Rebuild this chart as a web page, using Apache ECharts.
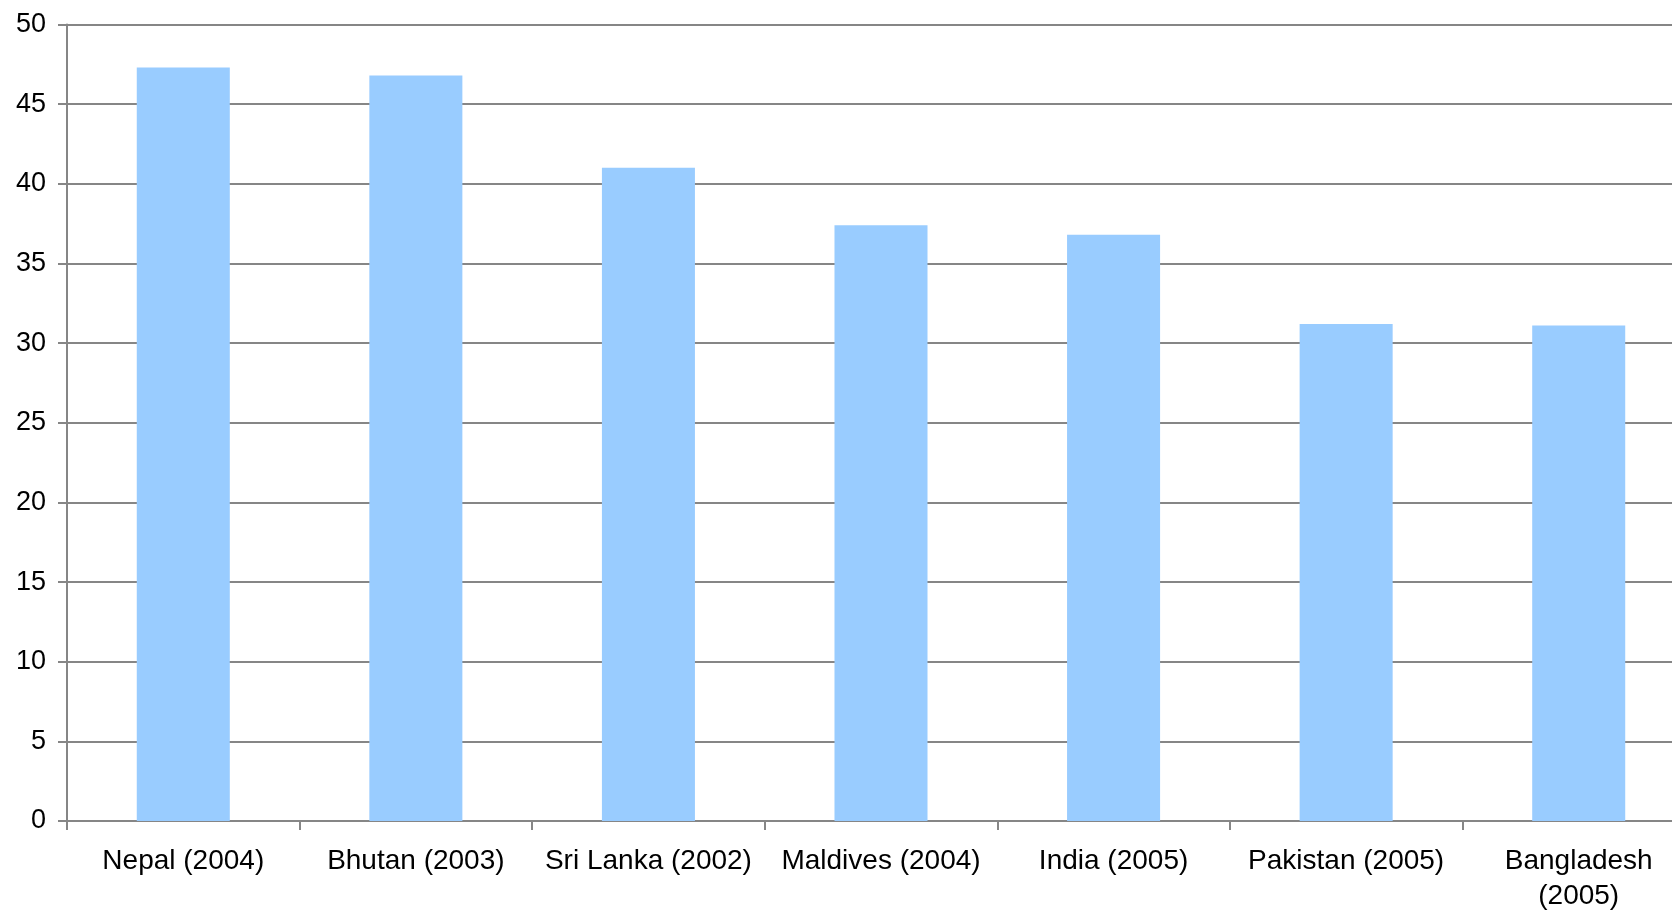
<!DOCTYPE html>
<html>
<head>
<meta charset="utf-8">
<script src="https://cdn.jsdelivr.net/npm/echarts@6/dist/echarts.min.js"></script>
<style>
  html, body { margin: 0; padding: 0; background: #ffffff; overflow: hidden; }
  /* plot area runs past the right edge of the window */
  #chart { width: 1695px; height: 914px; }
</style>
</head>
<body>
<div id="chart"></div>
<script>
// Countries with survey year
const categories = [
  'Nepal (2004)', 'Bhutan (2003)', 'Sri Lanka (2002)', 'Maldives (2004)',
  'India (2005)', 'Pakistan (2005)', 'Bangladesh\n(2005)'
];
// Value per country
const values = [47.3, 46.8, 41.0, 37.4, 36.8, 31.2, 31.1];
// Value axis range
const yMin = 0;
const yMax = 50;
const yStep = 5;

const chart = echarts.init(document.getElementById('chart'), null, { renderer: 'canvas' });
const axisGray = '#868686';
const labelFont = { color: '#000000', fontFamily: 'Liberation Sans, Arial, sans-serif' };

chart.setOption({
  animation: false,
  backgroundColor: '#ffffff',
  grid: { left: 67, right: 0, top: 24.5, bottom: 92, containLabel: false },
  xAxis: {
    type: 'category',
    data: categories,
    boundaryGap: true,
    axisLine: { show: true, lineStyle: { color: axisGray, width: 2 } },
    axisTick: { show: true, length: 9, alignWithLabel: false, lineStyle: { color: axisGray, width: 2 } },
    axisLabel: Object.assign({ interval: 0, margin: 23, fontSize: 28, lineHeight: 35 }, labelFont),
    splitLine: { show: false }
  },
  yAxis: {
    type: 'value',
    min: yMin,
    max: yMax,
    interval: yStep,
    axisLine: { show: true, lineStyle: { color: axisGray, width: 2 } },
    axisTick: { show: true, length: 9, lineStyle: { color: axisGray, width: 2 } },
    axisLabel: Object.assign({ margin: 21, fontSize: 27 }, labelFont),
    splitLine: { show: true, lineStyle: { color: axisGray, width: 2 } }
  },
  series: [{
    type: 'bar',
    data: values,
    barWidth: '40%',
    itemStyle: { color: '#99CCFF' }
  }]
});
</script>
</body>
</html>
